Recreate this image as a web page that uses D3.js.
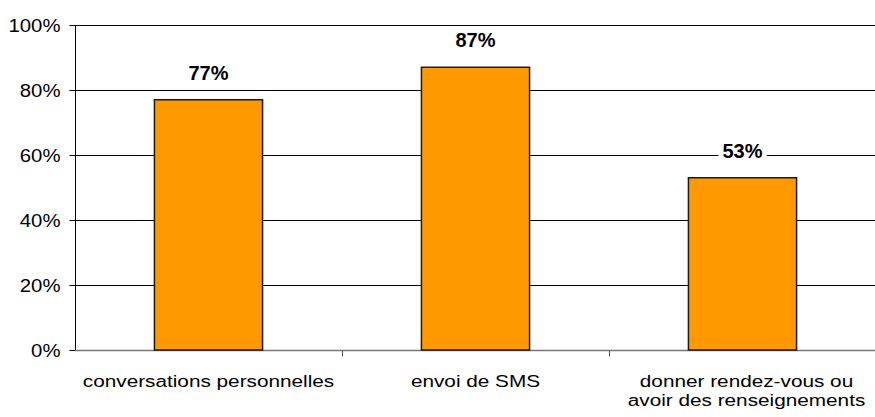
<!DOCTYPE html>
<html>
<head>
<meta charset="utf-8">
<script src="https://cdn.jsdelivr.net/npm/d3@7"></script>
<style>
  html, body { margin: 0; padding: 0; background: #fff; }
  svg { display: block; }
</style>
</head>
<body>
<svg id="chart" width="875" height="417"></svg>
<script>
const categories = [["conversations personnelles"], ["envoi de SMS"], ["donner rendez-vous ou", "avoir des renseignements"]];
const values = [0.77, 0.87, 0.53];
const valueLabels = ["77%", "87%", "53%"];
const yTicks = [0, 0.2, 0.4, 0.6, 0.8, 1.0];

const W = 875, H = 417;
const margin = { left: 75, right: -1, top: 25, bottom: 67 };
const svg = d3.select("#chart");
const font = "'Liberation Sans', Arial, Helvetica, sans-serif";

const x = d3.scaleBand().domain(d3.range(categories.length)).range([margin.left, W - margin.right]).padding(0);
const y = d3.scaleLinear().domain([0, 1]).range([H - margin.bottom, margin.top]);

// gridlines
svg.append("g").selectAll("line").data(yTicks.filter(t => t > 0)).join("line")
  .attr("x1", margin.left).attr("x2", W)
  .attr("y1", d => Math.round(y(d)) + 0.5).attr("y2", d => Math.round(y(d)) + 0.5)
  .attr("stroke", "#000").attr("stroke-width", 1);

// y axis
const yAxis = d3.axisLeft(y).tickValues(yTicks).tickFormat(d3.format(".0%")).tickSize(6).tickPadding(9);
const gy = svg.append("g").attr("transform", `translate(${margin.left + 0.5},0)`).call(yAxis);
gy.select(".domain").attr("stroke", "#000").attr("d", `M0,${y(1)}V${y(0)}`);
gy.selectAll(".tick line").attr("stroke", "#000");
gy.selectAll(".tick text")
  .attr("font-family", font).attr("font-size", "18.5px").attr("fill", "#000")
  .attr("x", null).attr("dy", "0.35em")
  .each(function () {
    const t = d3.select(this);
    t.attr("transform", "translate(-15,0) scale(1.1,1)").attr("x", 0);
  });

// x axis
const xAxis = d3.axisBottom(x).tickSize(0).tickFormat("");
const gx = svg.append("g").attr("transform", `translate(0,${Math.round(y(0)) + 0.5})`).call(xAxis);
gx.select(".domain").attr("stroke", "#777").attr("stroke-width", 1.5).attr("d", `M${margin.left},0H${W}`);
gx.selectAll(".tick").remove();
// category separators
gx.selectAll("line.sep").data(d3.range(1, categories.length)).join("line").attr("class", "sep")
  .attr("x1", i => Math.round(x(i)) + 0.5).attr("x2", i => Math.round(x(i)) + 0.5)
  .attr("y1", 0).attr("y2", 6).attr("stroke", "#555").attr("stroke-width", 1);

// category labels
const catG = svg.append("g");
categories.forEach((lines, i) => {
  const cx = x(i) + x.bandwidth() / 2 + (lines.length > 1 ? 4 : 0);
  const t = catG.append("text")
    .attr("transform", `translate(${cx},387) scale(1.2,1)`)
    .attr("text-anchor", "middle")
    .attr("font-family", font).attr("font-size", "17.3px").attr("fill", "#000");
  lines.forEach((ln, k) => {
    t.append("tspan").attr("x", 0).attr("y", k * 19.5).text(ln);
  });
});

// bars
const barW = x.bandwidth() * 0.405;
svg.append("g").selectAll("rect").data(values).join("rect")
  .attr("x", (d, i) => x(i) + (x.bandwidth() - barW) / 2)
  .attr("y", d => y(d))
  .attr("width", barW)
  .attr("height", d => y(0) - y(d))
  .attr("fill", "#FF9900")
  .attr("stroke", "#1a1a1a").attr("stroke-width", 1.5);

// value labels
const lg = svg.append("g");
values.forEach((v, i) => {
  const cx = x(i) + x.bandwidth() / 2;
  const by = y(v) - 20;
  const g = lg.append("g");
  const txt = g.append("text")
    .attr("x", cx).attr("y", by)
    .attr("text-anchor", "middle")
    .attr("font-family", font).attr("font-weight", "bold").attr("font-size", "20px").attr("fill", "#000")
    .text(valueLabels[i]);
  const bb = txt.node().getBBox();
  g.insert("rect", "text")
    .attr("x", bb.x - 4).attr("y", by - 21).attr("width", bb.width + 8).attr("height", 29)
    .attr("fill", "#fff");
});
</script>
</body>
</html>
